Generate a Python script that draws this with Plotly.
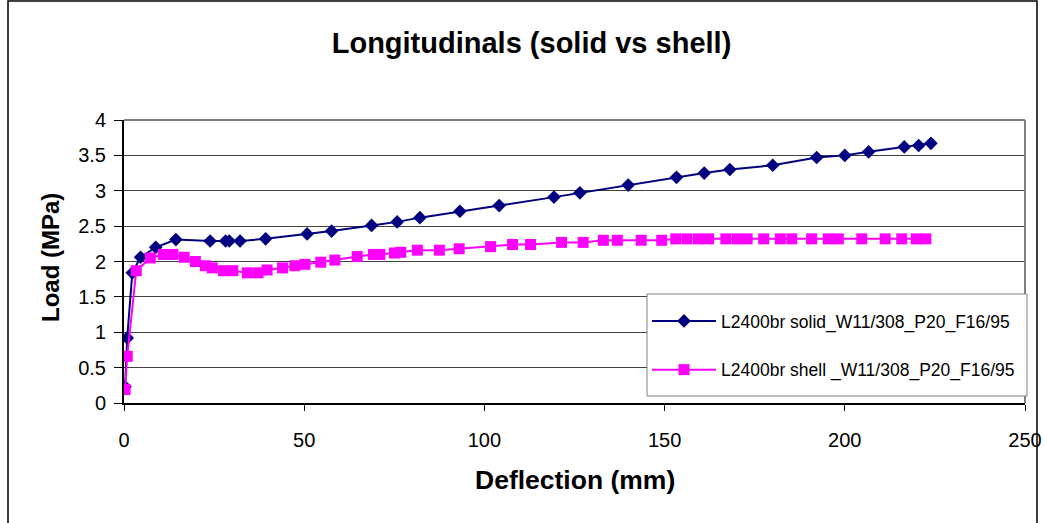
import plotly.graph_objects as go

# Load-deflection curves, longitudinal stiffeners: solid vs shell model
solid_defl = [0.3, 0.9, 2.3, 4.6, 8.8, 14.4, 23.9, 28.2, 29.2, 32.2, 39.3, 50.8, 57.6,
              68.7, 75.8, 82.1, 93.2, 104.1, 119.3, 126.5, 139.9, 153.3, 161.0, 168.1,
              180.0, 192.2, 200.0, 206.6, 216.5, 220.5, 223.9]
solid_load = [0.23, 0.92, 1.84, 2.06, 2.20, 2.31, 2.29, 2.29, 2.29, 2.29, 2.32, 2.39, 2.43,
              2.51, 2.56, 2.62, 2.71, 2.79, 2.91, 2.97, 3.08, 3.19, 3.25, 3.30,
              3.36, 3.47, 3.50, 3.55, 3.62, 3.64, 3.67]

shell_defl = [0.3, 0.9, 3.4, 7.3, 10.9, 13.6, 16.7, 19.8, 22.6, 24.5, 27.6, 30.2, 34.2,
              37.2, 39.7, 44.0, 47.4, 50.2, 54.6, 58.5, 64.7, 69.2, 71.0, 75.0, 76.8,
              81.4, 87.5, 93.0, 101.7, 107.8, 112.8, 121.4, 127.4, 133.0, 136.9, 143.5,
              149.2, 153.1, 156.2, 159.4, 162.2, 167.0, 170.1, 172.9, 177.5, 182.1,
              185.3, 190.8, 195.4, 198.2, 204.7, 211.2, 215.8, 219.8, 222.5]
shell_load = [0.19, 0.66, 1.87, 2.05, 2.10, 2.10, 2.06, 2.00, 1.94, 1.91, 1.87, 1.87, 1.84,
              1.84, 1.88, 1.91, 1.94, 1.96, 1.99, 2.02, 2.07, 2.10, 2.10, 2.12, 2.13,
              2.16, 2.16, 2.18, 2.21, 2.24, 2.24, 2.27, 2.27, 2.30, 2.30, 2.30,
              2.30, 2.32, 2.32, 2.32, 2.32, 2.32, 2.32, 2.32, 2.32, 2.32,
              2.32, 2.32, 2.32, 2.32, 2.32, 2.32, 2.32, 2.32, 2.32]

solid_name = "L2400br solid_W11/308_P20_F16/95"
shell_name = "L2400br shell _W11/308_P20_F16/95"
chart_title = "Longitudinals (solid vs shell)"
x_title = "Deflection (mm)"
y_title = "Load (MPa)"

FONT = "Liberation Sans, Arial, sans-serif"

fig = go.Figure()
fig.add_trace(go.Scatter(
    x=solid_defl, y=solid_load, name=solid_name, mode="lines+markers",
    line=dict(color="#000080", width=2),
    marker=dict(symbol="diamond", size=10.5, color="#000080"),
    legendgroup="a",
))
fig.add_trace(go.Scatter(
    x=shell_defl, y=shell_load, name=shell_name, mode="lines+markers",
    line=dict(color="#FF00FF", width=2),
    marker=dict(symbol="square", size=11, color="#FF00FF"),
    legendgroup="b",
))

L, R, T, B = 124, 20, 120, 120
W, H = 1045, 523
pw, ph = W - L - R, H - T - B


def px_x(p):
    return (p - L) / pw


def px_y(p):
    return (H - B - p) / ph


fig.update_layout(
    width=W, height=H, autosize=False,
    margin=dict(l=L, r=R, t=T, b=B, autoexpand=False),
    paper_bgcolor="white", plot_bgcolor="white",
    font=dict(family=FONT, color="black"),
    showlegend=True,
    legend=dict(
        x=px_x(647), y=px_y(303), xanchor="left", yanchor="top",
        bgcolor="rgba(0,0,0,0)", borderwidth=0,
        font=dict(size=17.5, family=FONT),
        traceorder="grouped", tracegroupgap=23,
        itemwidth=64,
    ),
    title=dict(text="<b>%s</b>" % chart_title, x=531.5 / W, xanchor="center",
               y=1 - 43 / H, yanchor="middle",
               font=dict(size=29, family=FONT, color="black")),
    xaxis=dict(
        range=[0, 250], dtick=50, tick0=0, showgrid=False, zeroline=False,
        showline=True, linecolor="black", linewidth=2, automargin=False,
        ticks="outside", ticklen=6, tickcolor="black", tickwidth=1,
        tickfont=dict(size=20, family=FONT), ticklabelstandoff=12,
    ),
    yaxis=dict(
        range=[0, 4], dtick=0.5, tick0=0, showgrid=True, gridcolor="#404040",
        gridwidth=1, zeroline=False, automargin=False,
        showline=True, linecolor="black", linewidth=2,
        ticks="outside", ticklen=8, tickcolor="black", tickwidth=1,
        tickfont=dict(size=20, family=FONT), ticklabelstandoff=4,
    ),
    annotations=[
        dict(text="<b>%s</b>" % x_title, xref="paper", yref="paper",
             x=px_x(575), y=px_y(480), xanchor="center", yanchor="middle",
             showarrow=False, font=dict(size=26.5, family=FONT)),
        dict(text="<b>%s</b>" % y_title, xref="paper", yref="paper",
             x=px_x(50), y=px_y(258), xanchor="center", yanchor="middle",
             textangle=-90, showarrow=False, font=dict(size=24, family=FONT)),
    ],
    shapes=[
        # grey plot-area frame (top and right edges)
        dict(type="line", xref="paper", yref="paper", x0=0, x1=1, y0=1, y1=1,
             line=dict(color="#808080", width=2)),
        dict(type="line", xref="paper", yref="paper", x0=1, x1=1, y0=0, y1=1,
             line=dict(color="#808080", width=2)),
        # legend box
        dict(type="rect", xref="paper", yref="paper", layer="above",
             x0=px_x(647), x1=px_x(1027), y0=px_y(396), y1=px_y(294),
             line=dict(color="#808080", width=1), fillcolor="white"),
        # outer chart border
        dict(type="rect", xref="paper", yref="paper",
             x0=px_x(8), x1=px_x(1037), y0=px_y(540), y1=px_y(1),
             line=dict(color="black", width=1.5), fillcolor="rgba(0,0,0,0)"),
    ],
)

fig.write_html(
    "out.html",
    config={"responsive": False},
    post_script="document.documentElement.style.overflow='hidden';"
                "document.body.style.margin='0';",
)
